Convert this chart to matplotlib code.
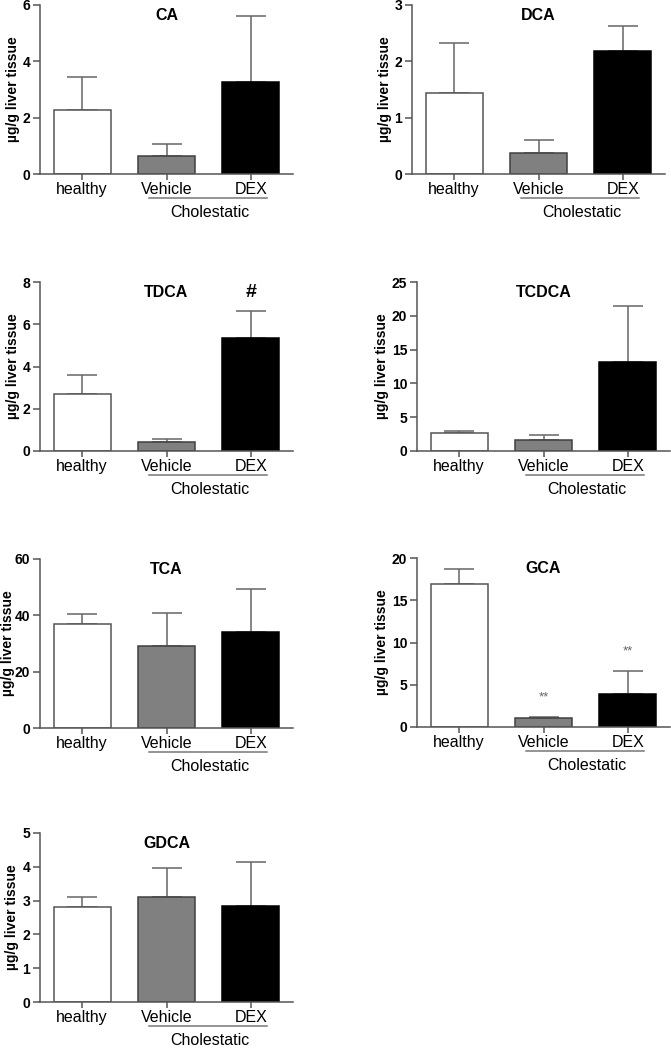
import numpy as np
import matplotlib
matplotlib.use("Agg")
import matplotlib.pyplot as plt

plt.rcParams['font.family'] = ['Liberation Sans', 'DejaVu Sans']

groups = ["healthy", "Vehicle", "DEX"]
bar_colors = ["white", "#808080", "black"]

# mean and upper end of the error bar
CA_mean = [2.27, 0.65, 3.25]
CA_top = [3.45, 1.05, 5.62]
DCA_mean = [1.43, 0.37, 2.18]
DCA_top = [2.32, 0.60, 2.63]
TDCA_mean = [2.72, 0.43, 5.37]
TDCA_top = [3.58, 0.55, 6.65]
TCDCA_mean = [2.7, 1.7, 13.2]
TCDCA_top = [3.0, 2.35, 21.5]
TCA_mean = [37.0, 29.0, 34.0]
TCA_top = [40.3, 41.0, 49.5]
GCA_mean = [16.9, 1.1, 3.95]
GCA_top = [18.7, 1.2, 6.65]
GDCA_mean = [2.82, 3.12, 2.85]
GDCA_top = [3.12, 3.97, 4.13]

# name, means, tops, ymax, tick step, axis x (px), zero line y (px), ylabel centre x (px)
panels = [
    ("CA", CA_mean, CA_top, 6, 2, 40, 174, 13),
    ("DCA", DCA_mean, DCA_top, 3, 1, 412, 174, 385),
    ("TDCA", TDCA_mean, TDCA_top, 8, 2, 40, 451, 13),
    ("TCDCA", TCDCA_mean, TCDCA_top, 25, 5, 417, 451, 382),
    ("TCA", TCA_mean, TCA_top, 60, 20, 40, 728, 8),
    ("GCA", GCA_mean, GCA_top, 20, 5, 417, 727, 382),
    ("GDCA", GDCA_mean, GDCA_top, 5, 1, 40, 1002, 12),
]

# significance marks: panel -> list of (group index, y value, text, style)
marks = {
    "TDCA": [(2, 7.5, "#", dict(fontsize=14, fontweight="bold", color="black"))],
    "GCA": [(1, 3.5, "**", dict(fontsize=9.5, color="#666666")),
            (2, 9.0, "**", dict(fontsize=9.5, color="#666666"))],
}

W, H = 671, 1048
fig = plt.figure(figsize=(W / 100, H / 100), dpi=100)
axc = "#555555"
x = np.arange(len(groups))

for name, mean, top, ymax, step, left_px, zero_px, lab_px in panels:
    ax = fig.add_axes([left_px / W, (H - zero_px) / H, 253 / W, 169 / H])
    ax.bar(x, mean, width=0.675, color=bar_colors, edgecolor=["#555555", "#404040", "black"],
           linewidth=1.1, zorder=2)
    err = np.array(top) - np.array(mean)
    ax.errorbar(x, mean, yerr=[np.zeros(3), err], fmt="none", ecolor="#666666",
                elinewidth=1.1, capsize=11, capthick=1.1, zorder=1)
    ax.set_xlim(-0.5, 2.5)
    ax.set_ylim(0, ymax)
    ax.set_yticks(np.arange(0, ymax + step / 2, step))
    ax.set_xticks(x)
    ax.set_xticklabels(groups, fontsize=11.5)
    for lab in ax.get_yticklabels():
        lab.set_fontweight("bold")
        lab.set_fontsize(10)
    ax.tick_params(axis="both", colors=axc, labelcolor="black", length=5, width=1.1)
    ax.tick_params(axis="y", pad=2)
    ax.tick_params(axis="x", length=4, pad=2)
    for s in ["top", "right"]:
        ax.spines[s].set_visible(False)
    for s in ["left", "bottom"]:
        ax.spines[s].set_color(axc)
        ax.spines[s].set_linewidth(1.1)
    ax.set_ylabel("µg/g liver tissue", fontsize=10, fontweight="bold", va="center")
    ax.yaxis.set_label_coords((lab_px - left_px) / 253, 0.5)
    ax.text(1, ymax * 0.94, name, ha="center", va="center", fontsize=11.5, fontweight="bold")
    trans = ax.get_xaxis_transform()
    ax.plot([0.787, 2.195], [-0.14, -0.14], color="#777777", lw=1.1, transform=trans, clip_on=False)
    ax.text(1.51, -0.23, "Cholestatic", ha="center", va="center", fontsize=11.5, transform=trans)
    for gi, yv, txt, st in marks.get(name, []):
        ax.text(gi, yv, txt, ha="center", va="center", **st)

fig.savefig("out.png", dpi=100)
